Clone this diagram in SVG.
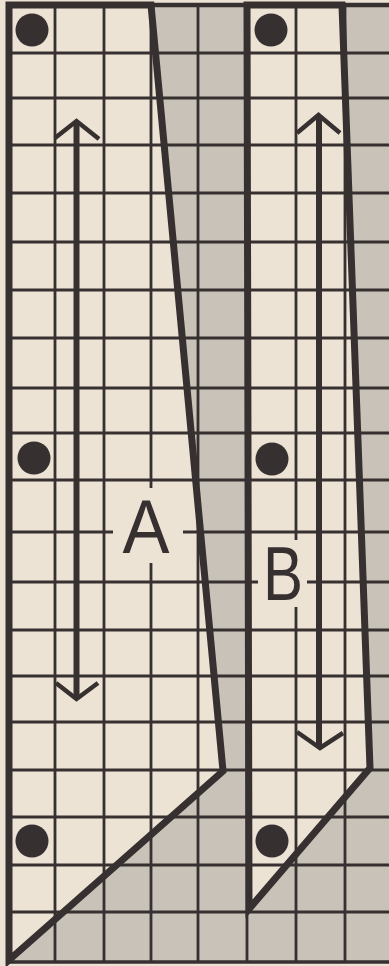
<svg xmlns="http://www.w3.org/2000/svg" width="389" height="966" viewBox="0 0 389 966">
<style>
.paper{fill:#ece3d4}
.shade{fill:#c8c2b9}
.grid line{stroke:#363030;stroke-width:2.8}
.piece{fill:#ece3d4;stroke:none}
.outline{fill:none;stroke:#363030;stroke-width:7;stroke-linejoin:miter}
.dot{fill:#363030}
.shaft{stroke:#363030;stroke-width:6;fill:none}
.head{stroke:#363030;stroke-width:4.5;fill:none;stroke-linejoin:miter}
.lbl{font-family:"Liberation Sans",Arial,sans-serif;font-size:76px;fill:#363030;text-anchor:middle}
</style>
<rect class="paper" x="0" y="0" width="389" height="966"/>
<rect class="shade" x="7" y="5" width="382" height="957"/>
<g id="pieceA-fill"><polygon class="piece" points="9,5 151,5 223,771 9,960"/></g>
<g id="pieceB-fill"><polygon class="piece" points="247,5 342,5 370,768 249,909"/></g>
<g class="grid" id="grid">
<line x1="55" y1="5" x2="55" y2="962"/>
<line x1="104" y1="5" x2="104" y2="962"/>
<line x1="151" y1="5" x2="151" y2="488"/>
<line x1="151" y1="563" x2="151" y2="962"/>
<line x1="198" y1="5" x2="198" y2="962"/>
<line x1="247" y1="5" x2="247" y2="962"/>
<line x1="296" y1="5" x2="296" y2="540"/>
<line x1="296" y1="607" x2="296" y2="962"/>
<line x1="345" y1="5" x2="345" y2="962"/>
<line x1="7" y1="53" x2="389" y2="53"/>
<line x1="7" y1="98" x2="389" y2="98"/>
<line x1="7" y1="145" x2="389" y2="145"/>
<line x1="7" y1="193" x2="389" y2="193"/>
<line x1="7" y1="242" x2="389" y2="242"/>
<line x1="7" y1="290" x2="389" y2="290"/>
<line x1="7" y1="338" x2="389" y2="338"/>
<line x1="7" y1="388" x2="389" y2="388"/>
<line x1="7" y1="433" x2="389" y2="433"/>
<line x1="7" y1="480" x2="389" y2="480"/>
<line x1="7" y1="532" x2="113" y2="532"/>
<line x1="183" y1="532" x2="389" y2="532"/>
<line x1="7" y1="582" x2="258" y2="582"/>
<line x1="307" y1="582" x2="389" y2="582"/>
<line x1="7" y1="630" x2="389" y2="630"/>
<line x1="7" y1="676" x2="389" y2="676"/>
<line x1="7" y1="722" x2="389" y2="722"/>
<line x1="7" y1="770" x2="389" y2="770"/>
<line x1="7" y1="817" x2="389" y2="817"/>
<line x1="7" y1="865" x2="389" y2="865"/>
<line x1="7" y1="912" x2="389" y2="912"/>
<line x1="7" y1="962" x2="389" y2="962" style="stroke-width:3.5"/>
<line x1="7" y1="5" x2="389" y2="5" style="stroke-width:4.5"/>
</g>
<g id="pieceA">
<path class="outline" d="M9,5 H151 L223,771 L9,960 Z"/>
<circle class="dot" cx="32" cy="30" r="16.5"/>
<circle class="dot" cx="34" cy="458" r="16.5"/>
<circle class="dot" cx="32" cy="841" r="16.5"/>
<text class="lbl" x="146" y="553" textLength="47" lengthAdjust="spacingAndGlyphs">A</text>
</g>
<g id="pieceB">
<path class="outline" d="M247,5 H342 L370,768 L249,909 Z"/>
<circle class="dot" cx="271" cy="30" r="16.5"/>
<circle class="dot" cx="272" cy="459" r="16.5"/>
<circle class="dot" cx="272" cy="841" r="16.5"/>
<text class="lbl" x="283" y="600" textLength="40" lengthAdjust="spacingAndGlyphs">B</text>
</g>
<g id="connectors">
<line class="shaft" x1="76.5" y1="123" x2="76.5" y2="697"/>
<polyline class="head" points="55,138 76.5,121 99,139"/>
<polyline class="head" points="56,683 76.5,699 98,683"/>
<line class="shaft" x1="319" y1="117" x2="319" y2="746"/>
<polyline class="head" points="297,133 318.5,115 340,133"/>
<polyline class="head" points="297,732 320,748 343,733"/>
</g>
</svg>
